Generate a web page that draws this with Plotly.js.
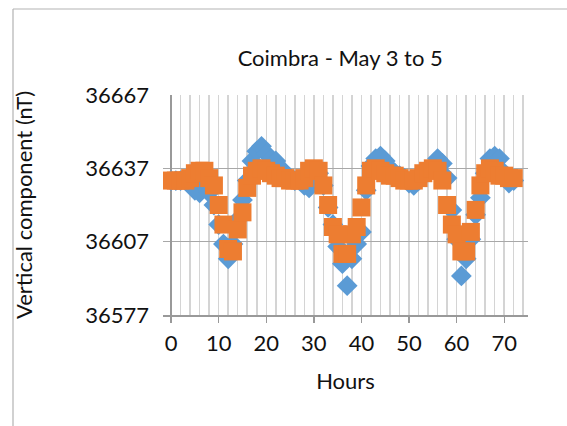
<!DOCTYPE html>
<html>
<head>
<meta charset="utf-8">
<script src="https://cdn.plot.ly/plotly-3.0.1.min.js"></script>
<style>html,body{margin:0;padding:0;background:#fff;}#chart{width:567px;height:426px;}</style>
</head>
<body>
<div id="chart"></div>
<script>
// Hours of observation
var hours = [0,1,2,3,4,5,6,7,8,9,10,11,12,13,14,15,16,17,18,19,20,21,22,23,24,25,26,27,28,29,30,31,32,33,34,35,36,37,38,39,40,41,42,43,44,45,46,47,48,49,50,51,52,53,54,55,56,57,58,59,60,61,62,63,64,65,66,67,68,69,70,71,72];
// Blue diamonds series (nT)
var seriesBlue = [36632,36632,36632,36632,36631,36628,36627,36630,36627,36622,36614,36606,36600,36606,36616,36624,36632,36640,36644,36646,36643,36641,36640,36637,36635,36633,36632,36632,36630,36629,36633,36635,36630,36621,36614,36605,36598,36589,36600,36606,36611,36628,36638,36641,36642,36640,36637,36635,36634,36633,36631,36630,36632,36634,36636,36638,36641,36639,36633,36620,36608,36593,36600,36608,36618,36625,36635,36641,36642,36641,36635,36631,36632];
// Orange squares series (nT)
var seriesOrange = [36632,36632,36632,36632,36633,36635,36636,36636,36633,36630,36622,36614,36604,36603,36612,36619,36629,36634,36636,36637,36636,36635,36634,36633,36633,36632,36632,36632,36633,36636,36637,36636,36630,36622,36613,36610,36602,36602,36610,36613,36621,36630,36636,36637,36636,36635,36634,36634,36633,36632,36632,36632,36633,36635,36636,36637,36636,36632,36622,36614,36610,36603,36603,36611,36620,36630,36635,36637,36636,36634,36634,36633,36633];
var yTicks = [36577,36607,36637,36667];
var xTicks = [0,10,20,30,40,50,60,70];

var font = "Lato, 'Open Sans', sans-serif";
var fs = 22;

var traces = [
  {x: hours, y: seriesBlue, type: 'scatter', mode: 'markers', name: 'Series 1',
   marker: {symbol: 'diamond', size: 16, color: '#5B9BD5', line: {width: 0}}},
  {x: hours, y: seriesOrange, type: 'scatter', mode: 'markers', name: 'Series 2',
   marker: {symbol: 'square', size: 18, color: '#ED7D31', line: {width: 0}}}
];

var layout = {
  width: 567, height: 426,
  margin: {l: 163, r: 39, t: 95, b: 111},
  paper_bgcolor: '#fff', plot_bgcolor: '#fff',
  showlegend: false,
  font: {family: font, color: '#111', size: fs},
  title: {text: 'Coimbra - May 3 to 5', font: {family: font, size: fs, color: '#111'},
          xref: 'container', x: 0.6, xanchor: 'center', yref: 'container', y: 1 - 58/426, yanchor: 'middle'},
  xaxis: {
    range: [-1.7, 75], tickmode: 'array', tickvals: xTicks, ticktext: xTicks.map(String),
    ticks: 'outside', ticklen: 6, tickcolor: '#999', tickwidth: 1.3,
    ticklabelstandoff: 2,
    showline: true, linecolor: '#999', linewidth: 1.5,
    showgrid: true, gridcolor: '#d4d4d4', gridwidth: 1.5,
    minor: {dtick: 2, tick0: 0, showgrid: true, gridcolor: '#d4d4d4', gridwidth: 1.5, ticks: ''},
    zeroline: true, zerolinecolor: '#999', zerolinewidth: 1.5,
    tickfont: {family: font, size: fs, color: '#111'},
    title: {text: 'Hours', font: {family: font, size: fs, color: '#111'}, standoff: 18},
    fixedrange: true
  },
  yaxis: {
    range: [36577, 36667], tickmode: 'array', tickvals: yTicks, ticktext: yTicks.map(String),
    ticks: '', showline: false,
    showgrid: true, gridcolor: '#a8a8a8', gridwidth: 1.5,
    zeroline: false,
    ticklabelstandoff: 13,
    tickfont: {family: font, size: fs, color: '#111'},
    title: {text: 'Vertical component (nT)', font: {family: font, size: fs, color: '#111'}, standoff: 46},
    fixedrange: true
  },
  shapes: [
    {type: 'line', xref: 'paper', yref: 'paper', x0: (13-163)/365, x1: (13-163)/365, y0: (426-9-111)/220, y1: -111/220, line: {color: '#b3b3b3', width: 1.2}},
    {type: 'line', xref: 'paper', yref: 'paper', x0: (13-163)/365, x1: (567-163)/365, y0: (426-9-111)/220, y1: (426-9-111)/220, line: {color: '#b3b3b3', width: 1.2}}
  ]
};

Plotly.newPlot('chart', traces, layout, {staticPlot: true, displayModeBar: false});
</script>
</body>
</html>
